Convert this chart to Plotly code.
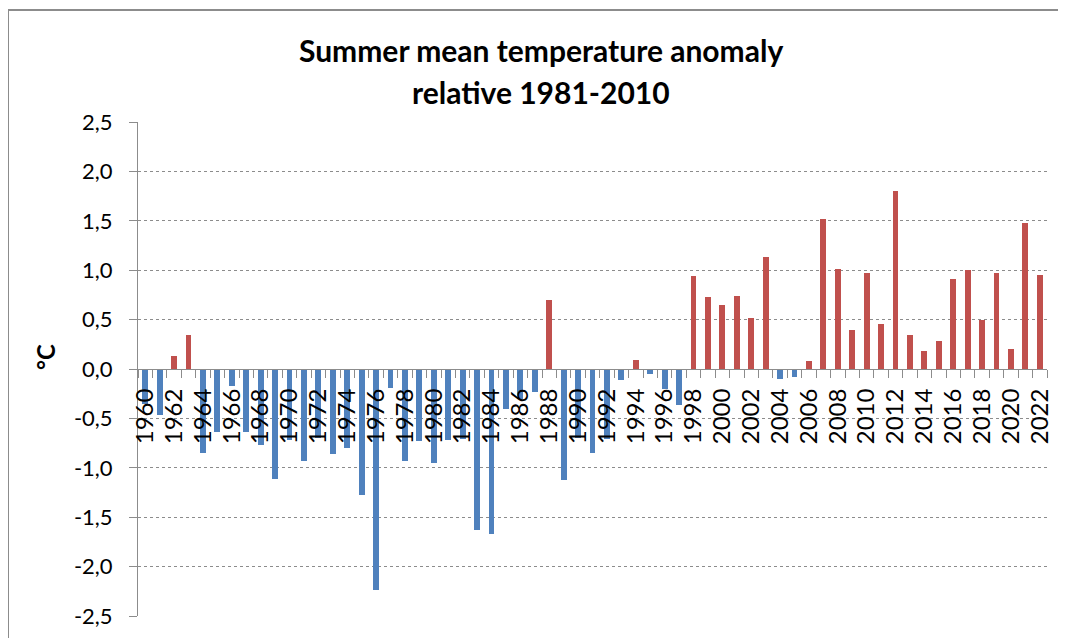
import plotly.graph_objects as go

years = list(range(1960, 2023))
anomaly = [
    -0.35, -0.47, 0.13, 0.34, -0.85, -0.64, -0.17, -0.64, -0.77, -1.11,
    -0.72, -0.93, -0.70, -0.86, -0.80, -1.28, -2.24, -0.19, -0.93, -0.73,
    -0.95, -0.72, -0.71, -1.63, -1.67, -0.40, -0.30, -0.23, 0.70, -1.12,
    -0.70, -0.85, -0.71, -0.11, 0.09, -0.05, -0.20, -0.36, 0.94, 0.73,
    0.65, 0.74, 0.52, 1.13, -0.10, -0.08, 0.08, 1.52, 1.01, 0.39,
    0.97, 0.46, 1.80, 0.34, 0.18, 0.28, 0.91, 1.00, 0.50, 0.97,
    0.20, 1.48, 0.95,
]
year_ticks = list(range(1960, 2023, 2))
year_labels = [str(y) for y in year_ticks]
y_ticks = [-2.5, -2.0, -1.5, -1.0, -0.5, 0.0, 0.5, 1.0, 1.5, 2.0, 2.5]
y_labels = ["-2,5", "-2,0", "-1,5", "-1,0", "-0,5", "0,0",
            "0,5", "1,0", "1,5", "2,0", "2,5"]
title_lines = ["Summer mean temperature anomaly", "relative 1981-2010"]
y_title = "°C"

WARM = "#C0504D"
COLD = "#4F81BD"
colors = [WARM if v > 0 else COLD for v in anomaly]

FONT = "Lato"
OFF = 8  # page body margin offset
W, H = 1066, 638
# target plot area in screenshot pixels
PX0, PX1, PY0, PY1 = 138, 1047, 122, 616
L, T = PX0 - OFF, PY0 - OFF
PW, PH = PX1 - PX0, PY1 - PY0
R, B = W - L - PW, H - T - PH


def px_x(px):
    return (px - PX0) / PW


def px_y(py):
    return (PY1 - py) / PH


fig = go.Figure()
fig.add_trace(go.Bar(
    x=years, y=anomaly, width=0.4,
    marker=dict(color=colors, line=dict(width=0)),
    showlegend=False,
))

fig.update_layout(
    width=W, height=H,
    margin=dict(l=L, r=R, t=T, b=B, autoexpand=False),
    paper_bgcolor="white", plot_bgcolor="white",
    font=dict(family=FONT, color="#000000"),
    bargap=0,
)

for line, py in zip(title_lines, [50, 92]):
    fig.add_annotation(
        text="<b>" + line + "</b>", xref="paper", yref="paper",
        x=px_x(541), y=px_y(py), xanchor="center", yanchor="middle",
        showarrow=False, font=dict(family=FONT, size=30, color="#000000"),
    )

# y-axis title
fig.add_annotation(
    text="<b>" + y_title + "</b>", xref="paper", yref="paper",
    x=px_x(45), y=px_y(357), xanchor="center", yanchor="middle",
    textangle=-90, showarrow=False,
    font=dict(family=FONT, size=24, color="#000000"),
)

fig.update_xaxes(
    range=[1959.5, 2022.5],
    anchor="free", position=0.5,
    tickmode="array",
    tickvals=year_ticks,
    ticktext=year_labels,
    tickangle=-90,
    tickfont=dict(family=FONT, size=24, color="#000000"),
    ticks="",
    ticklabelstandoff=9,
    minor=dict(ticks="outside", tick0=1959.5, dtick=1, ticklen=8,
               tickcolor="#8c8c8c", tickwidth=1, showgrid=False),
    showline=True, linecolor="#8c8c8c", linewidth=1,
    showgrid=False, zeroline=False, automargin=False,
)

fig.update_yaxes(
    range=[-2.5, 2.5],
    tickmode="array", tickvals=y_ticks, ticktext=y_labels,
    tickfont=dict(family=FONT, size=22, color="#000000"),
    ticks="outside", ticklen=8, tickcolor="#8c8c8c", tickwidth=1,
    ticklabelstandoff=12,
    showline=True, linecolor="#8c8c8c", linewidth=1,
    showgrid=True, gridcolor="#8c8c8c", griddash="dot", gridwidth=1,
    zeroline=False, automargin=False,
)

# chart-area frame (left and top edges)
fig.add_shape(type="line", xref="paper", yref="paper",
              x0=px_x(8), x1=px_x(8), y0=px_y(10), y1=px_y(650),
              line=dict(color="#8c8c8c", width=2))
fig.add_shape(type="line", xref="paper", yref="paper",
              x0=px_x(8), x1=px_x(1075), y0=px_y(10), y1=px_y(10),
              line=dict(color="#8c8c8c", width=2))

fig.write_html("out.html")
